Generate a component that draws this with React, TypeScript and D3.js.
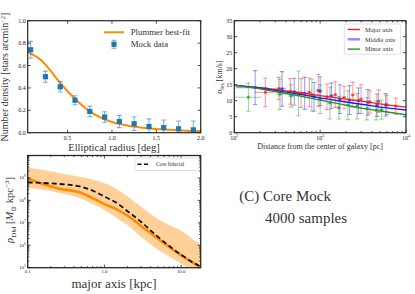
import React from 'react';
import * as d3 from 'd3';

const FONT = '"Liberation Serif", "DejaVu Serif", serif';

// top-left panel: stellar number density
const radiusDeg = [0.083, 0.25, 0.417, 0.583, 0.75, 0.917, 1.083, 1.25, 1.417, 1.583, 1.75, 1.917];
const densityMock = [0.74, 0.5, 0.41, 0.29, 0.19, 0.14, 0.1, 0.08, 0.055, 0.045, 0.035, 0.025];
const densityErr = [0.075, 0.05, 0.047, 0.04, 0.047, 0.047, 0.055, 0.06, 0.068, 0.068, 0.07, 0.08];
const plummerR = [0.05, 0.1, 0.2, 0.3, 0.4, 0.5, 0.6, 0.7, 0.8, 0.9, 1.0, 1.2, 1.4, 1.6, 1.8, 2.0];
const plummerFit = [0.72, 0.7, 0.65, 0.56, 0.46, 0.37, 0.29, 0.22, 0.165, 0.125, 0.095, 0.06, 0.04, 0.028, 0.02, 0.015];
const densTicksX = [0.5, 1.0, 1.5, 2.0];
const densTicksY = [0, 0.2, 0.4, 0.6, 0.8, 1.0];

// top-right panel: velocity dispersion
const majorR = [230, 330, 450, 600, 750, 950, 1200, 1500, 1900, 2400, 3000, 3800, 4800, 6000, 7600];
const majorSig = [12.6, 13.8, 12.9, 12.4, 12.6, 13.2, 11.2, 11.9, 11.0, 11.8, 10.5, 9.6, 9.8, 8.7, 8.3];
const majorErr = [4.5, 3.5, 4.0, 4.5, 4.5, 5.0, 4.0, 4.0, 3.5, 4.0, 4.5, 3.5, 3.5, 3.0, 2.5];
const majorXErr = [60, 40, 40, 50, 50, 60, 80, 90, 110, 140, 170, 210, 260, 320, 400];
const middleR = [175, 360, 500, 660, 850, 1000, 1350, 1700, 2200, 2800, 3600, 4600, 5800];
const middleSig = [14.1, 13.7, 12.8, 12.3, 11.2, 13.0, 11.5, 10.5, 10.2, 10.0, 9.5, 8.6, 8.7];
const middleErr = [5.3, 5.4, 4.2, 5.0, 4.5, 4.5, 4.0, 4.5, 4.5, 4.0, 4.0, 3.5, 3.5];
const middleXErr = [70, 40, 40, 50, 60, 60, 80, 100, 130, 160, 200, 250, 300];
const minorR = [146, 340, 460, 560, 800, 1000, 1300, 1650, 2100, 2700, 3500, 4500, 5200];
const minorSig = [11.1, 12.0, 11.5, 12.3, 11.8, 10.5, 9.3, 7.8, 8.6, 8.3, 7.5, 7.0, 7.2];
const minorErr = [4.4, 4.7, 3.5, 7.0, 5.0, 4.5, 5.0, 3.5, 4.5, 4.0, 3.5, 3.0, 3.0];
const minorXErr = [60, 40, 40, 50, 60, 60, 80, 100, 120, 150, 200, 250, 280];
const modelR = [100, 200, 316, 500, 1000, 2000, 3162, 5000, 10000];
const majorModel = [14.8, 14.1, 13.4, 12.7, 11.6, 10.5, 9.8, 9.0, 8.0];
const middleModel = [14.8, 13.9, 13.1, 12.3, 10.9, 9.6, 8.8, 8.0, 7.1];
const minorModel = [14.8, 13.7, 12.7, 11.8, 10.2, 8.6, 7.6, 6.8, 5.6];
const sigTicksY = [0, 5, 10, 15, 20, 25, 30, 35];
const sigTicksX = [2, 3, 4];

// bottom-left panel: dark matter density (log10 values)
const rKpc = [0.1, 0.15, 0.26, 0.48, 0.72, 1.0, 1.45, 2.16, 3.0, 4.35, 6.5, 10, 14.5, 18];
const logRhoFid = [8.8, 8.78, 8.73, 8.62, 8.42, 8.17, 7.88, 7.43, 7.05, 6.55, 6.05, 5.58, 5.22, 5.05];
const logRhoMed = [8.98, 8.75, 8.52, 8.35, 8.08, 7.83, 7.6, 7.25, 6.86, 6.45, 6.0, 5.55, 5.2, 5.03];
const logRhoHi = [9.45, 9.38, 9.22, 9.05, 8.92, 8.78, 8.5, 8.1, 7.72, 7.3, 6.95, 6.65, 6.25, 6.03];
const logRhoLo = [8.55, 8.48, 8.33, 8.1, 7.82, 7.58, 7.2, 6.8, 6.38, 5.95, 5.55, 5.18, 4.85, 4.65];
const rhoTicksX = [0.1, 1, 10];
const rhoTickLabelsX = ['0.1', '1.0', '10.0'];
const rhoTicksY = [5, 6, 7, 8, 9];

const ORANGE = '#ff8c00';
const FRAME = '#262626';

type Box = { l: number; r: number; t: number; b: number };

// inward ticks on all four sides
function Ticks({ box, xs, ys, len }: { box: Box; xs: number[]; ys: number[]; len: number }) {
  return (
    <g stroke={FRAME} strokeWidth={0.8}>
      {xs.map((x, i) => (
        <g key={'x' + i}>
          <line x1={x} x2={x} y1={box.b} y2={box.b - len} />
          <line x1={x} x2={x} y1={box.t} y2={box.t + len} />
        </g>
      ))}
      {ys.map((y, i) => (
        <g key={'y' + i}>
          <line x1={box.l} x2={box.l + len} y1={y} y2={y} />
          <line x1={box.r} x2={box.r - len} y1={y} y2={y} />
        </g>
      ))}
    </g>
  );
}

function logMinors(lo: number, hi: number) {
  const out: number[] = [];
  for (let e = Math.floor(Math.log10(lo)); e <= Math.ceil(Math.log10(hi)); e++) {
    for (let k = 2; k <= 9; k++) {
      const v = k * Math.pow(10, e);
      if (v > lo && v < hi) out.push(v);
    }
  }
  return out;
}

function DensityPanel() {
  const box: Box = { l: 27.7, r: 200.7, t: 20.7, b: 132.7 };
  const x = d3.scaleLinear().domain([0.05, 2.0]).range([box.l, box.r]);
  const y = d3.scaleLinear().domain([0, 1]).range([box.b, box.t]);
  const line = d3
    .line<number>()
    .x((_, i) => x(plummerR[i]))
    .y((d) => y(d))
    .curve(d3.curveMonotoneX);
  return (
    <g>
      <defs>
        <clipPath id="clip1">
          <rect x={box.l} y={box.t} width={box.r - box.l} height={box.b - box.t} />
        </clipPath>
      </defs>
      <g clipPath="url(#clip1)">
        <path d={line(plummerFit) || ''} fill="none" stroke={ORANGE} strokeWidth={2} />
        {radiusDeg.map((r, i) => {
          const cx = x(r);
          const top = y(densityMock[i] + densityErr[i]);
          const bot = y(Math.max(0, densityMock[i] - densityErr[i]));
          return (
            <g key={i}>
              <g stroke="#1f77b4" strokeOpacity={0.55} strokeWidth={1.1}>
                <line x1={cx} x2={cx} y1={top} y2={bot} />
                <line x1={cx - 2.5} x2={cx + 2.5} y1={top} y2={top} />
                <line x1={cx - 2.5} x2={cx + 2.5} y1={bot} y2={bot} />
              </g>
              <rect x={cx - 2.6} y={y(densityMock[i]) - 2.6} width={5.2} height={5.2} fill="#1f77b4" />
            </g>
          );
        })}
      </g>
      <Ticks box={box} xs={densTicksX.map((d) => x(d))} ys={densTicksY.map((d) => y(d))} len={3} />
      <rect x={box.l} y={box.t} width={box.r - box.l} height={box.b - box.t} fill="none" stroke={FRAME} strokeWidth={1.2} />
      <g fontFamily={FONT} fontSize={6} fill="#222">
        {densTicksX.map((d) => (
          <text key={d} x={x(d)} y={box.b + 7} textAnchor="middle">
            {d.toFixed(1)}
          </text>
        ))}
        {densTicksY.map((d) => (
          <text key={d} x={box.l - 2} y={y(d) + 2} textAnchor="end">
            {d.toFixed(1)}
          </text>
        ))}
      </g>
      {/* legend */}
      <line x1={104} x2={124} y1={32.3} y2={32.3} stroke={ORANGE} strokeWidth={2} />
      <g stroke="#1f77b4" strokeOpacity={0.55} strokeWidth={1.1}>
        <line x1={114} x2={114} y1={40.3} y2={48.3} />
        <line x1={111.5} x2={116.5} y1={40.3} y2={40.3} />
        <line x1={111.5} x2={116.5} y1={48.3} y2={48.3} />
      </g>
      <rect x={111.4} y={41.7} width={5.2} height={5.2} fill="#1f77b4" />
      <g fontFamily={FONT} fontSize={8.8} fill="#333">
        <text x={130.7} y={35.3}>Plummer best-fit</text>
        <text x={130.7} y={47.3}>Mock data</text>
      </g>
      <g fontFamily={FONT} fontSize={10} fill="#333">
        <text x={114} y={151} fontSize={10.5} textAnchor="middle">Elliptical radius [deg]</text>
        <text transform="translate(8,77) rotate(-90)" textAnchor="middle">
          Number density [stars arcmin
          <tspan dy={-3.5} fontSize={6.5}>−2</tspan>
          <tspan dy={3.5}>]</tspan>
        </text>
      </g>
    </g>
  );
}

function DispersionPanel() {
  const box: Box = { l: 234.3, r: 406, t: 20.7, b: 132.7 };
  const x = d3.scaleLog().domain([100, 10000]).range([box.l, box.r]);
  const y = d3.scaleLinear().domain([0, 35]).range([box.b, box.t]);
  const series = [
    { name: 'Major axis', color: '#ff1a1a', r: majorR, s: majorSig, e: majorErr, xe: majorXErr, model: majorModel },
    { name: 'Middle axis', color: '#1a1aff', r: middleR, s: middleSig, e: middleErr, xe: middleXErr, model: middleModel },
    { name: 'Minor axis', color: '#1f9a1f', r: minorR, s: minorSig, e: minorErr, xe: minorXErr, model: minorModel },
  ];
  const line = d3
    .line<number>()
    .x((_, i) => x(modelR[i]))
    .y((d) => y(d))
    .curve(d3.curveMonotoneX);
  const minors = logMinors(100, 10000).map((d) => x(d));
  return (
    <g>
      <defs>
        <clipPath id="clip2">
          <rect x={box.l} y={box.t} width={box.r - box.l} height={box.b - box.t} />
        </clipPath>
      </defs>
      <g clipPath="url(#clip2)">
        {series.map((s) => (
          <g key={s.name} stroke={s.color} strokeOpacity={0.42} strokeWidth={1.1}>
            {s.r.map((r, i) => {
              const cx = x(r);
              const cy = y(s.s[i]);
              const top = y(s.s[i] + s.e[i]);
              const bot = y(s.s[i] - s.e[i]);
              return (
                <g key={i}>
                  <line x1={cx} x2={cx} y1={top} y2={bot} />
                  <line x1={cx - 2.2} x2={cx + 2.2} y1={top} y2={top} />
                  <line x1={cx - 2.2} x2={cx + 2.2} y1={bot} y2={bot} />
                  <line x1={x(r - s.xe[i])} x2={x(r + s.xe[i])} y1={cy} y2={cy} />
                  <rect x={cx - 1.4} y={cy - 1.4} width={2.8} height={2.8} fill={s.color} fillOpacity={0.7} stroke="none" />
                </g>
              );
            })}
          </g>
        ))}
        {series.map((s) => (
          <path key={s.name} d={line(s.model) || ''} fill="none" stroke={s.color} strokeWidth={1.4} />
        ))}
      </g>
      <Ticks box={box} xs={sigTicksX.map((e) => x(Math.pow(10, e)))} ys={sigTicksY.map((d) => y(d))} len={3} />
      <Ticks box={box} xs={minors} ys={[]} len={1.7} />
      <rect x={box.l} y={box.t} width={box.r - box.l} height={box.b - box.t} fill="none" stroke={FRAME} strokeWidth={1.2} />
      <g fontFamily={FONT} fontSize={6} fill="#222">
        {sigTicksY.map((d) => (
          <text key={d} x={box.l - 2} y={y(d) + 2} textAnchor="end">
            {d}
          </text>
        ))}
        {sigTicksX.map((e) => (
          <text key={e} x={x(Math.pow(10, e))} y={box.b + 7} textAnchor="middle">
            10<tspan dy={-2.5} fontSize={4}>{e}</tspan>
          </text>
        ))}
      </g>
      {/* legend */}
      <rect x={344.3} y={24} width={56.4} height={30.3} rx={1.5} fill="#fff" fillOpacity={0.85} stroke="#ccc" strokeWidth={0.6} />
      {series.map((s, i) => (
        <g key={s.name}>
          <line
            x1={347.7}
            x2={360}
            y1={29.5 + i * 9.8}
            y2={29.5 + i * 9.8}
            stroke={s.color}
            strokeWidth={i === 1 ? 2.4 : 1.4}
            strokeOpacity={i === 1 ? 0.5 : 1}
          />
          <text x={365} y={31.7 + i * 9.8} fontFamily={FONT} fontSize={6.4} fill="#333">
            {s.name}
          </text>
        </g>
      ))}
      <g fontFamily={FONT} fontSize={8} fill="#333">
        <text x={320} y={149} textAnchor="middle">Distance from the center of galaxy [pc]</text>
        <text transform="translate(222,77) rotate(-90)" textAnchor="middle">
          <tspan fontStyle="italic">σ</tspan>
          <tspan dy={2} fontSize={5.5}>los</tspan>
          <tspan dy={-2}> [km/s]</tspan>
        </text>
      </g>
    </g>
  );
}

function RhoPanel() {
  const box: Box = { l: 27.7, r: 200.7, t: 155.5, b: 267.7 };
  const x = d3.scaleLog().domain([0.1, 18]).range([box.l, box.r]);
  const y = d3.scaleLog().domain([1e5, 1e10]).range([box.b, box.t]);
  const line = d3
    .line<number>()
    .x((_, i) => x(rKpc[i]))
    .y((d) => y(Math.pow(10, d)))
    .curve(d3.curveMonotoneX);
  const band = d3
    .area<number>()
    .x((_, i) => x(rKpc[i]))
    .y0((_, i) => y(Math.pow(10, logRhoLo[i])))
    .y1((d) => y(Math.pow(10, d)))
    .curve(d3.curveMonotoneX);
  const minX = logMinors(0.1, 18).map((d) => x(d));
  const minY = logMinors(1e5, 1e10).map((d) => y(d));
  return (
    <g>
      <defs>
        <clipPath id="clip3">
          <rect x={box.l} y={box.t} width={box.r - box.l} height={box.b - box.t} />
        </clipPath>
      </defs>
      <g clipPath="url(#clip3)">
        <path d={band(logRhoHi) || ''} fill="#ffd199" />
        <path d={line(logRhoMed) || ''} fill="none" stroke={ORANGE} strokeWidth={2.6} />
        <path d={line(logRhoFid) || ''} fill="none" stroke="#111" strokeWidth={1.8} strokeDasharray="5,3" />
      </g>
      <Ticks box={box} xs={rhoTicksX.map((d) => x(d))} ys={rhoTicksY.map((e) => y(Math.pow(10, e)))} len={3} />
      <Ticks box={box} xs={minX} ys={minY} len={1.6} />
      <rect x={box.l} y={box.t} width={box.r - box.l} height={box.b - box.t} fill="none" stroke={FRAME} strokeWidth={1.3} />
      <g fontFamily={FONT} fontSize={4.8} fill="#222">
        {rhoTicksX.map((d, i) => (
          <text key={d} x={x(d)} y={box.b + 5} textAnchor="middle">
            {rhoTickLabelsX[i]}
          </text>
        ))}
        {rhoTicksY.map((e) => (
          <text key={e} x={box.l - 2} y={y(Math.pow(10, e)) + 1.5} textAnchor="end">
            10<tspan dy={-2} fontSize={3.5}>{e}</tspan>
          </text>
        ))}
      </g>
      {/* legend */}
      <rect x={135} y={158} width={64} height={12.5} rx={1.5} fill="#fff" stroke="#ccc" strokeWidth={0.6} />
      <line x1={137.5} x2={150} y1={164.2} y2={164.2} stroke="#111" strokeWidth={1.6} strokeDasharray="4,2.5" />
      <text x={156} y={166} fontFamily={FONT} fontSize={5.4} fill="#333">
        Core fiducial
      </text>
      <g fontFamily={FONT} fill="#333">
        <text x={114} y={288} textAnchor="middle" fontSize={13}>
          major axis [kpc]
        </text>
        <text transform="translate(13,210) rotate(-90)" textAnchor="middle" fontSize={10.5}>
          <tspan fontStyle="italic">ρ</tspan>
          <tspan dy={2.5} fontSize={7}>DM</tspan>
          <tspan dy={-2.5}> [</tspan>
          <tspan fontStyle="italic">M</tspan>
          <tspan dy={2.5} fontSize={7}>⊙</tspan>
          <tspan dy={-2.5}> kpc</tspan>
          <tspan dy={-4} fontSize={7}>−3</tspan>
          <tspan dy={4}>]</tspan>
        </text>
      </g>
    </g>
  );
}

export default function App() {
  return (
    <svg
      width={415}
      height={294}
      style={{ position: 'absolute', left: 0, top: 0, background: '#fff' }}
    >
      <DensityPanel />
      <DispersionPanel />
      <RhoPanel />
      <g fontFamily={FONT} fontSize={15} fill="#333">
        <text x={239.3} y={201}>(C) Core Mock</text>
        <text x={265} y={222.7}>4000 samples</text>
      </g>
    </svg>
  );
}
